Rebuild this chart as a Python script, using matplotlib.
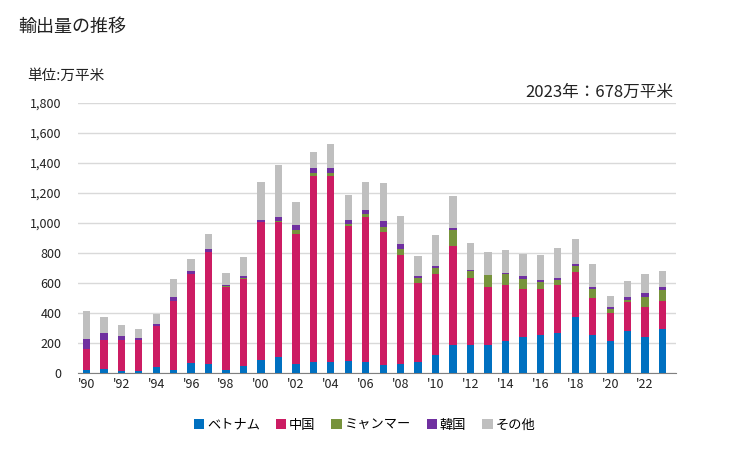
import numpy as np
import matplotlib
matplotlib.use("Agg")
import matplotlib.pyplot as plt

plt.rcParams['font.family'] = ['Noto Sans CJK JP', 'DejaVu Sans']

years = list(range(1990, 2024))
vietnam = [22, 29, 16, 16, 40, 22, 69, 62, 22, 49, 89, 104, 62, 76, 76, 82, 76, 53, 62, 76,
           120, 184, 184, 184, 211, 238, 256, 269, 371, 251, 211, 282, 238, 291]
china = [140, 193, 206, 206, 276, 460, 593, 747, 554, 580, 920, 905, 867, 1240, 1240, 900, 966, 889, 727, 524,
         542, 665, 452, 392, 378, 324, 306, 320, 305, 251, 187, 194, 204, 191]
myanmar = [0, 0, 0, 0, 0, 0, 0, 0, 6, 7, 0, 7, 27, 20, 20, 14, 20, 34, 40, 36,
           40, 107, 44, 80, 73, 67, 47, 33, 40, 60, 31, 13, 67, 74]
korea = [67, 47, 27, 9, 13, 27, 20, 20, 7, 13, 13, 26, 33, 33, 33, 26, 27, 40, 33, 13,
         14, 13, 9, 0, 7, 20, 13, 14, 13, 14, 13, 20, 27, 20]
other = [187, 107, 73, 65, 67, 120, 80, 100, 80, 127, 254, 347, 153, 107, 160, 167, 187, 253, 187, 133,
         206, 213, 180, 153, 153, 147, 167, 200, 167, 153, 74, 107, 126, 102]

series = [("ベトナム", vietnam, "#0070C0"),
          ("中国", china, "#CC1C63"),
          ("ミャンマー", myanmar, "#77933C"),
          ("韓国", korea, "#7030A0"),
          ("その他", other, "#BFBFBF")]

fig = plt.figure(figsize=(7.29, 4.5), dpi=100)
ax = fig.add_axes([78 / 729, 1 - 373 / 450, (676 - 78) / 729, 270 / 450])

x = np.arange(len(years))
bottom = np.zeros(len(years))
for name, vals, col in series:
    ax.bar(x, vals, width=0.42, bottom=bottom, color=col, label=name, zorder=3)
    bottom += np.array(vals)

ax.set_ylim(0, 1800)
ax.set_xlim(-0.48, len(years) - 0.23)
ax.set_yticks(range(0, 1801, 200))
ax.set_yticklabels([f"{v:,}" for v in range(0, 1801, 200)])
ax.grid(axis='y', color='#D9D9D9', linewidth=1, zorder=0)
ax.set_xticks(x[::2])
ax.set_xticklabels([f"'{str(y)[2:]}" for y in years[::2]])
ax.tick_params(axis='both', length=0, labelsize=9, colors='#222222')
ax.tick_params(axis='y', pad=12)
for s in ['top', 'right', 'left']:
    ax.spines[s].set_visible(False)
ax.spines['bottom'].set_color('#808080')

fig.text(18 / 729, 1 - 27 / 450, "輸出量の推移", fontsize=13, va='center', ha='left', color='#222222')
fig.text(27 / 729, 1 - 76 / 450, "単位:万平米", fontsize=10.5, va='center', ha='left', color='#222222')
fig.text(673 / 729, 1 - 92 / 450, "2023年：678万平米", fontsize=12, va='center', ha='right', color='#222222')

leg = fig.legend(loc='center', bbox_to_anchor=(0.5, 1 - 425 / 450), ncol=5, frameon=False,
                 fontsize=9.5, handlelength=0.8, handleheight=0.8, handletextpad=0.2, columnspacing=1.2)

fig.savefig("out.png", dpi=100)
